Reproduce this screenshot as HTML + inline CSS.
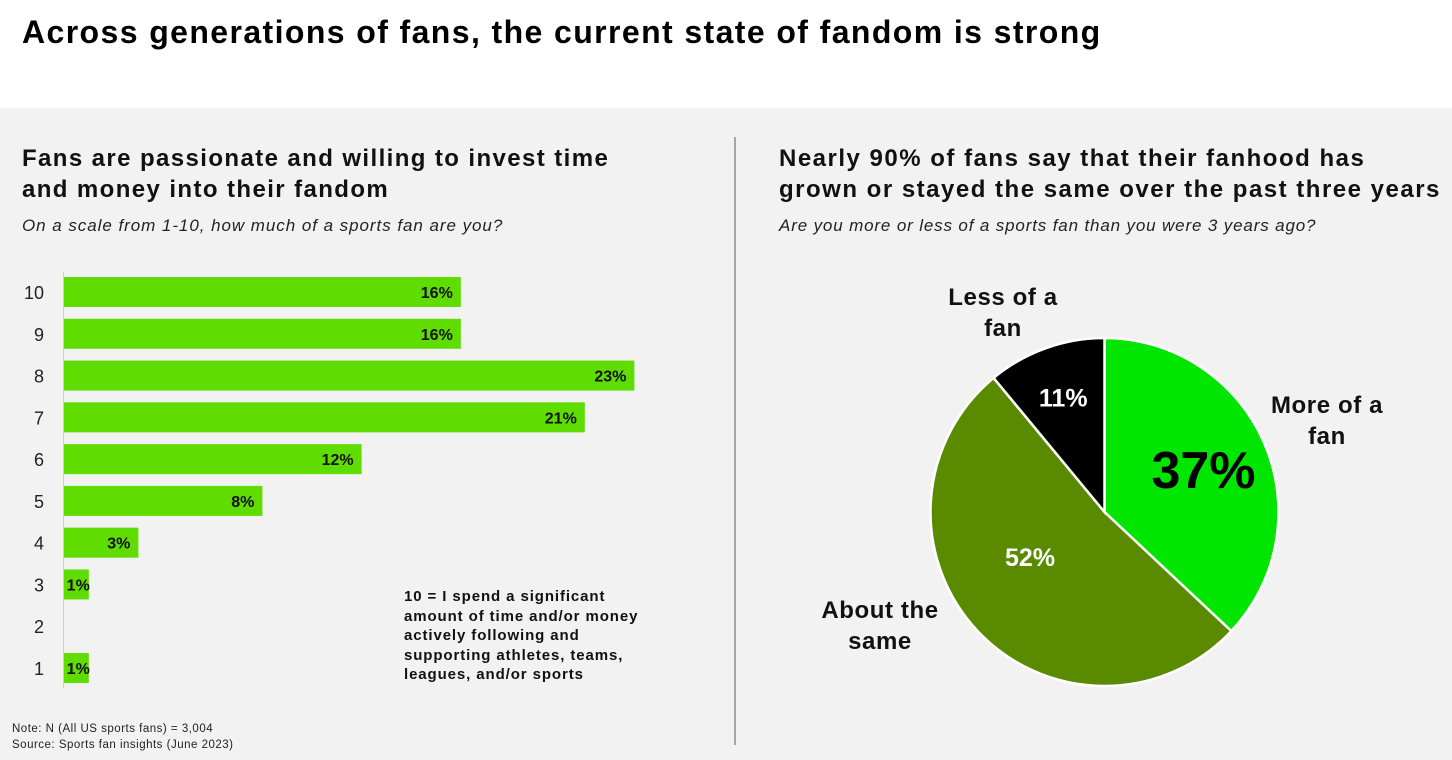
<!DOCTYPE html>
<html><head><meta charset="utf-8">
<style>
body{margin:0;width:1452px;height:760px;overflow:hidden;background:#fff;font-family:"Liberation Sans",sans-serif;position:relative}
.abs{position:absolute}
</style></head>
<body>
<div class="abs" style="left:22px;top:14px;font-size:32px;letter-spacing:1.4px;font-weight:bold;color:#000">Across generations of fans, the current state of fandom is strong</div>
<div class="abs" style="left:0;top:108px;width:1452px;height:652px;background:#f2f2f2"></div>
<div class="abs" style="left:734px;top:137px;width:2px;height:608px;background:#a6a6a6"></div>
<div class="abs" style="left:22px;top:143px;font-size:24px;letter-spacing:1.4px;font-weight:bold;line-height:31px;color:#111;white-space:nowrap">Fans are passionate and willing to invest time<br>and money into their fandom</div>
<div class="abs" style="left:22px;top:216px;font-size:17px;letter-spacing:0.95px;font-style:italic;color:#222">On a scale from 1-10, how much of a sports fan are you?</div>
<div class="abs" style="left:779px;top:143px;font-size:24px;letter-spacing:1.5px;font-weight:bold;line-height:31px;color:#111;white-space:nowrap">Nearly 90% of fans say that their fanhood has<br>grown or stayed the same over the past three years</div>
<div class="abs" style="left:779px;top:216px;font-size:17px;letter-spacing:0.85px;font-style:italic;color:#222;white-space:nowrap">Are you more or less of a sports fan than you were 3 years ago?</div>
<div class="abs" style="left:404px;top:587px;font-size:15px;letter-spacing:0.9px;font-weight:bold;line-height:19.5px;color:#111;white-space:nowrap">10 = I spend a significant<br>amount of time and/or money<br>actively following and<br>supporting athletes, teams,<br>leagues, and/or sports</div>
<div class="abs" style="left:12px;top:721px;font-size:11.5px;letter-spacing:0.5px;line-height:16px;color:#222;white-space:nowrap">Note: N (All US sports fans) = 3,004<br>Source: Sports fan insights (June 2023)</div>
<svg class="abs" style="left:0;top:0" width="1452" height="760">
<line x1="63.5" y1="272" x2="63.5" y2="688" stroke="#d0d0d0" stroke-width="1"/>
<g id="bars"></g>
<g id="pie"></g>
</svg>
<script>
const categories=["10","9","8","7","6","5","4","3","2","1"];
const barValues=[16,16,23,21,12,8,3,1,0,1];
const pieLabels=["More of a fan","About the same","Less of a fan"];
const pieValues=[37,52,11];
const NS="http://www.w3.org/2000/svg";
const x0=64,pxPer=24.8,top0=292,pitch=41.78,bh=30;
const xs=v=>x0+v*pxPer, ys=i=>top0+i*pitch;
const bars=document.getElementById('bars');
function mk(t,a,p){const e=document.createElementNS(NS,t);for(const k in a)e.setAttribute(k,a[k]);p.appendChild(e);return e;}
categories.forEach((c,i)=>{
 const lab=mk('text',{x:44,y:ys(i)+7,'text-anchor':'end','font-size':18,fill:'#222'},bars);lab.textContent=c;
 
 
 const v=barValues[i];
 if(v>0){
  const r=mk('rect',{x:x0,y:ys(i)-bh/2,width:xs(v)-x0,height:bh,fill:'#5fdc00'},bars);
  
  
  const t=mk('text',{x:xs(v)-8,y:ys(i)+6,'text-anchor':'end','font-size':16,'font-weight':'bold',fill:'#111'},bars);t.textContent=v+'%';
  if(v<2){t.setAttribute('x',xs(v)+1);}
  
  
 }
});
const pie=document.getElementById('pie');
const cx=1104.5,cy=512,R=174;
const colors=["#00e600","#5a8a00","#000"];
const valColors=["#000","#fff","#fff"];
const valSizes=[52,25,25];
const valR=[0.62,0.5,0.7];
const valShift=[0,0.21,0];
const labPos=[[1327,415],[880,620],[1003,307]];
const labLines=[["More of a","fan"],["About the","same"],["Less of a","fan"]];
const total=pieValues.reduce((a,b)=>a+b,0);
let acc=0;
pieValues.forEach((v,i)=>{
 const a0=acc/total*2*Math.PI;acc+=v;const a1=acc/total*2*Math.PI;
 const p=(a)=>[cx+R*Math.sin(a),cy-R*Math.cos(a)];
 const [x1,y1]=p(a0),[x2,y2]=p(a1);
 const s=mk('path',{d:`M${cx},${cy}L${x1},${y1}A${R},${R} 0 ${a1-a0>Math.PI?1:0} 1 ${x2},${y2}Z`,fill:colors[i],stroke:'#fff','stroke-width':2.5},pie);
 
 
 const am=(a0+a1)/2+valShift[i];
 const t=mk('text',{x:cx+R*valR[i]*Math.sin(am),y:cy-R*valR[i]*Math.cos(am)+valSizes[i]*0.36,'text-anchor':'middle','font-size':valSizes[i],'font-weight':'bold',fill:valColors[i]},pie);
 t.textContent=v+'%';
 
 
 const l=mk('text',{x:labPos[i][0],y:labPos[i][1]-2,'text-anchor':'middle','font-size':24,'font-weight':'bold','letter-spacing':0.6,fill:'#111'},pie);
 labLines[i].forEach((ln,j)=>{const ts=mk('tspan',{x:labPos[i][0],dy:j?31:0},l);ts.textContent=ln;});
 
 
});
</script>
</body></html>
